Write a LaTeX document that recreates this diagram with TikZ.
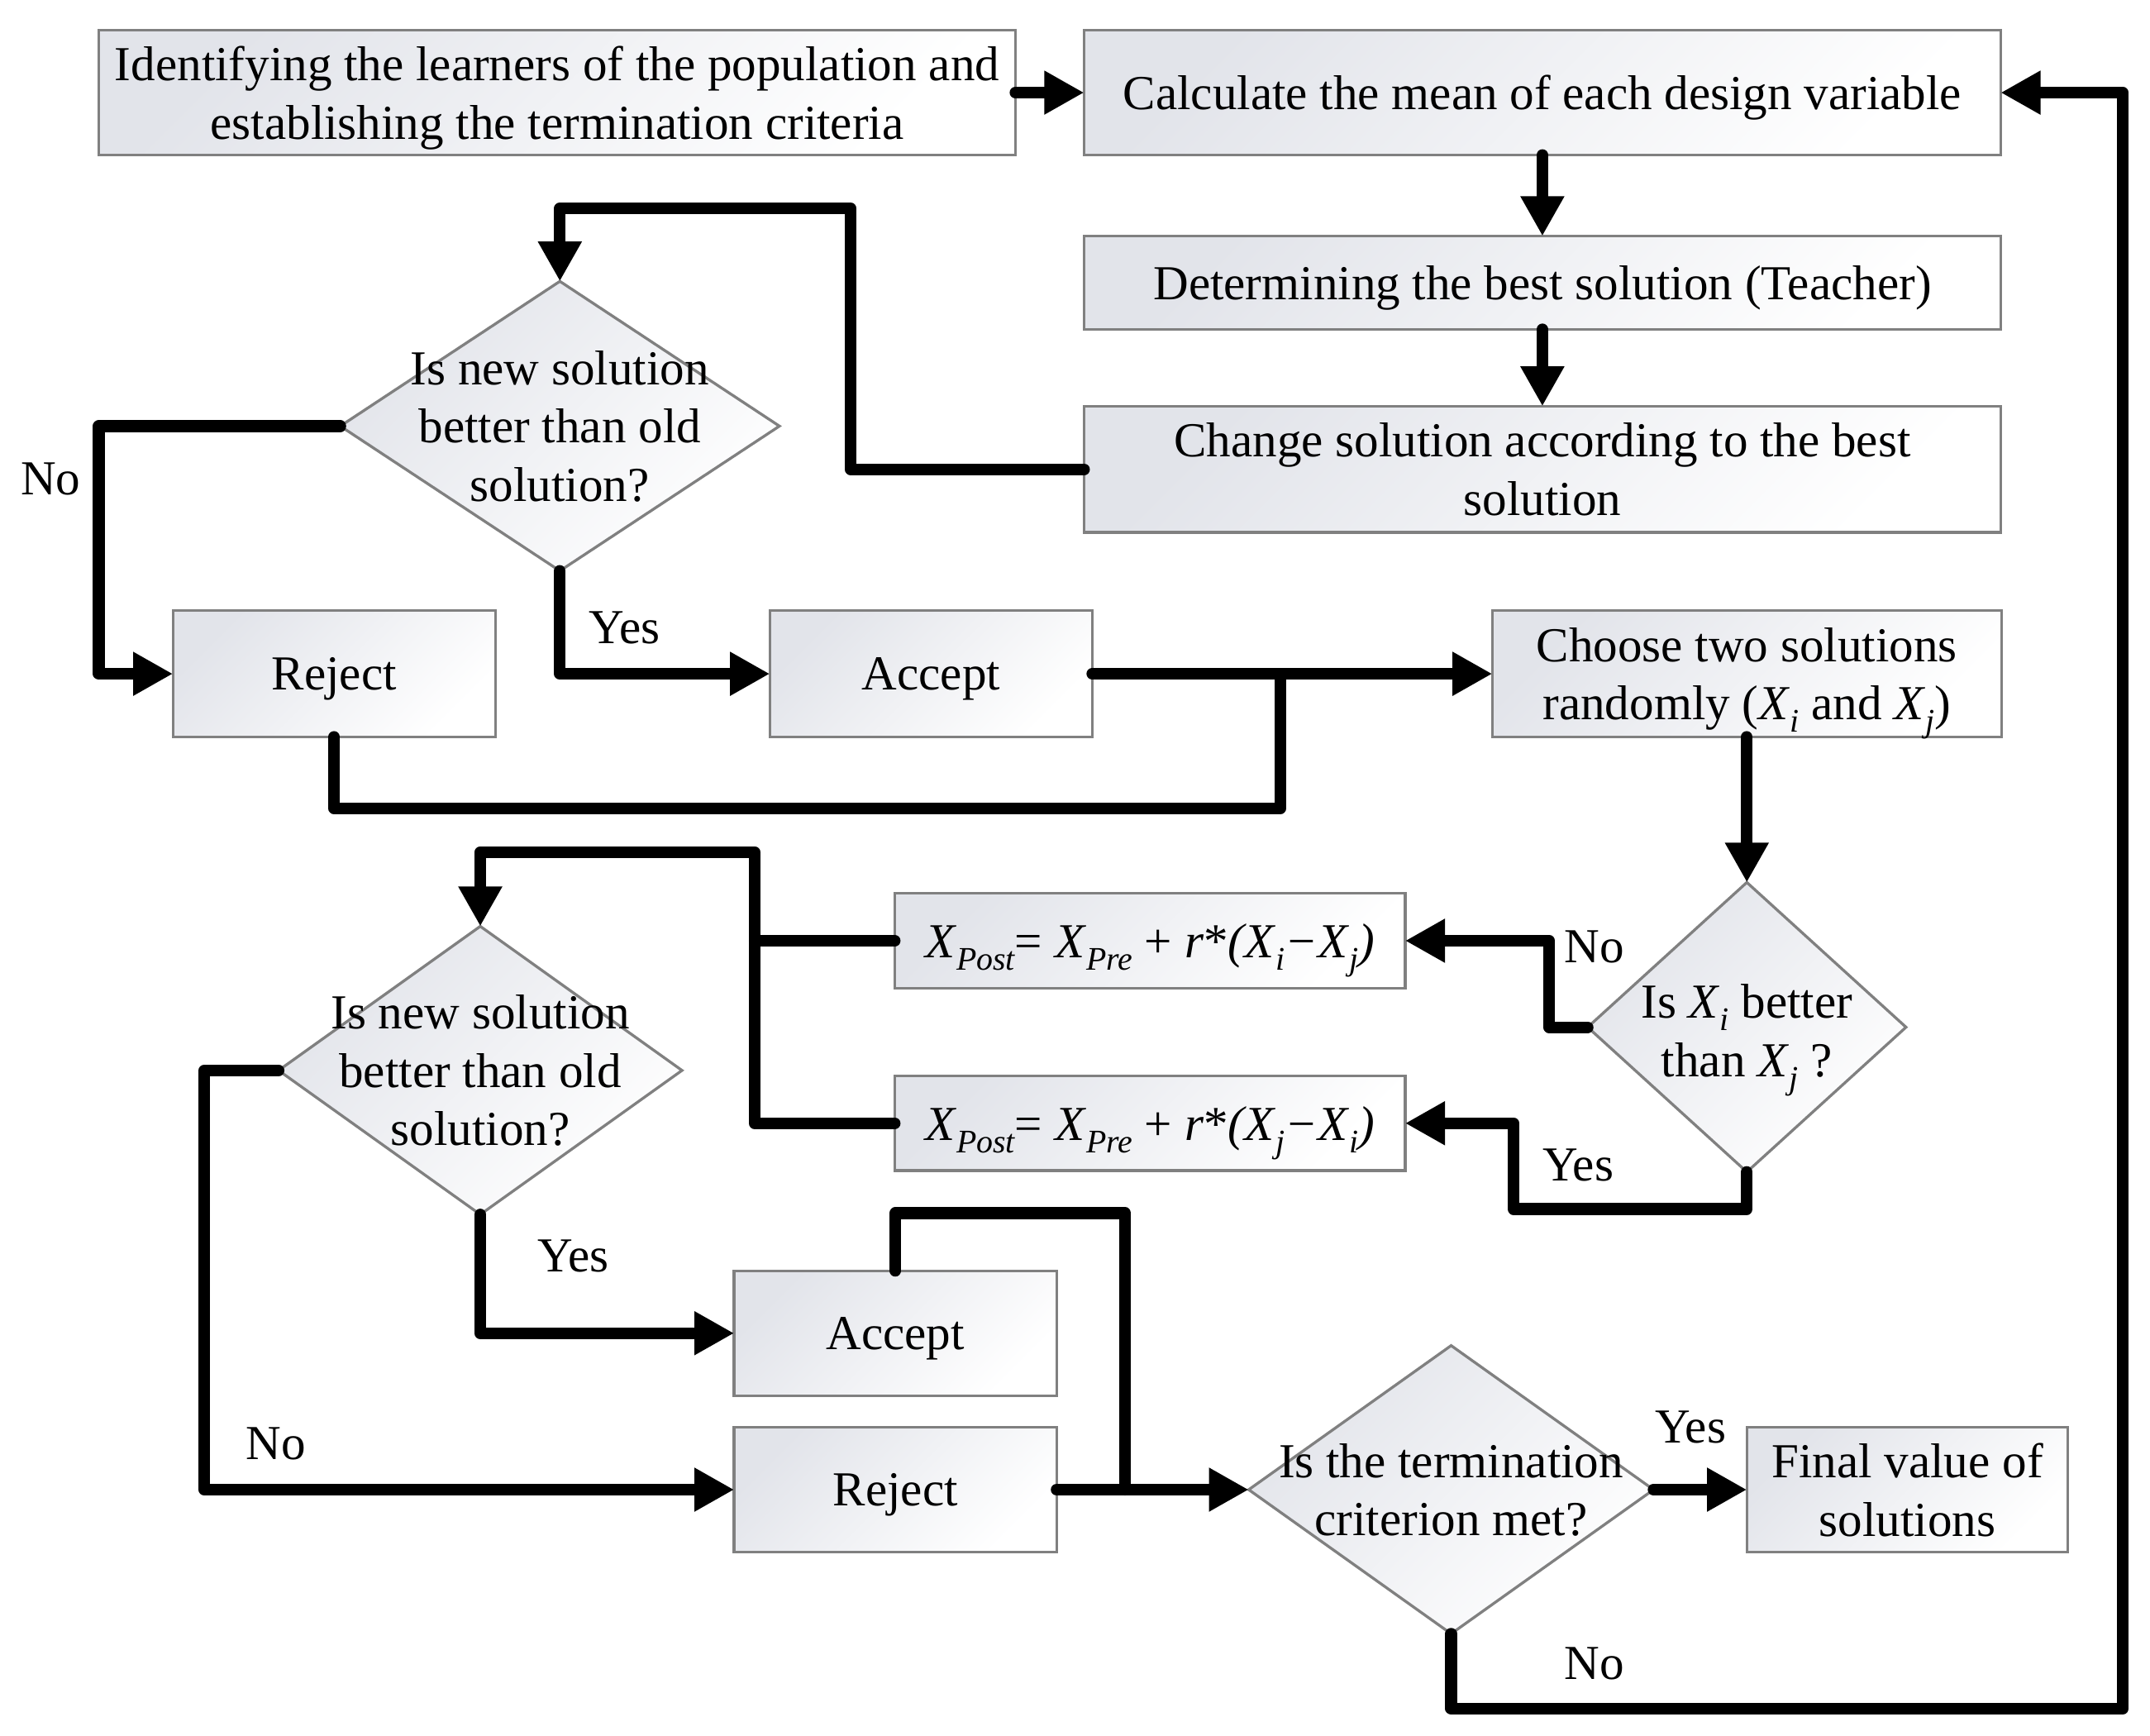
\documentclass[tikz,border=0pt]{standalone}
\usepackage{fontspec}
\setmainfont{Liberation Serif}
\usetikzlibrary{arrows.meta,shapes.geometric}
\definecolor{boxline}{RGB}{128,128,128}
\definecolor{boxfill}{RGB}{226,228,234}
\newcommand{\sbs}[1]{\raisebox{-0.25em}{\fontsize{24}{24}\selectfont\itshape #1}}
\begin{document}
\begin{tikzpicture}[x=1pt,y=-1pt,
  every node/.style={font=\fontsize{35.6}{42.5}\selectfont, text depth=0pt},
  box/.style={rectangle, draw=boxline, line width=2pt, left color=boxfill, right color=white, shading angle=45, inner sep=0pt, outer sep=0pt, align=center},
  dia/.style={diamond, draw=boxline, line width=2pt, left color=boxfill, right color=white, shading angle=45, inner sep=0pt, outer sep=0pt},
  txt/.style={align=center, inner sep=0pt},
  conn/.style={line width=8.5pt, line cap=round, line join=round},
  arr/.style={conn, -{Triangle[length=29pt,width=30pt]}}]
\useasboundingbox (0,0) rectangle (1566.8,1265);
% boxes
\node[box, minimum width=668pt, minimum height=91pt] (A) at (406,67.5) {Identifying the learners of the population and\\establishing the termination criteria};
\node[box, minimum width=668pt, minimum height=91pt] (B) at (1124,67.5) {Calculate the mean of each design variable};
\node[box, minimum width=668pt, minimum height=68pt] (C) at (1124,206) {Determining the best solution (Teacher)};
\node[box, minimum width=668pt, minimum height=92pt] (D) at (1124,342) {Change solution according to the best\\solution};
\node[box, minimum width=235pt, minimum height=92pt] (R1) at (243.5,491) {Reject};
\node[box, minimum width=235pt, minimum height=92pt] (A1) at (678.5,491) {Accept};
\node[box, minimum width=371pt, minimum height=92pt] (Ch) at (1273,491) {Choose two solutions\\randomly (\textit{X}\sbs{i} and \textit{X}\sbs{j})};
\node[box, minimum width=372pt, minimum height=69pt] (F1) at (838,685.5) {\textit{X}\sbs{Post}= \textit{X}\sbs{Pre} + \textit{r}*\textit{(X}\sbs{i}\textit{−X}\sbs{j}\textit{)}};
\node[box, minimum width=372pt, minimum height=69pt] (F2) at (838,818.5) {\textit{X}\sbs{Post}= \textit{X}\sbs{Pre} + \textit{r}*\textit{(X}\sbs{j}\textit{−X}\sbs{i}\textit{)}};
\node[box, minimum width=235pt, minimum height=91pt] (A2) at (652.5,971.5) {Accept};
\node[box, minimum width=235pt, minimum height=91pt] (R2) at (652.5,1085.5) {Reject};
\node[box, minimum width=234pt, minimum height=91pt] (Fin) at (1390,1085.5) {Final value of\\solutions};
% diamonds
\node[dia, minimum width=320pt, minimum height=211pt] (d1) at (408,310.5) {};
\node[txt] (d1t) at (d1.center) {Is new solution\\better than old\\solution?};
\node[dia, minimum width=232pt, minimum height=211pt] (d2) at (1273,748.5) {};
\node[txt] (d2t) at (1273,751) {Is \textit{X}\sbs{i} better\\than \textit{X}\sbs{j} ?};
\node[dia, minimum width=294pt, minimum height=210pt] (d3) at (350,780) {};
\node[txt] (d3t) at (d3.center) {Is new solution\\better than old\\solution?};
\node[dia, minimum width=295pt, minimum height=210pt] (d4) at (1057.5,1085.5) {};
\node[txt] (d4t) at (d4.center) {Is the termination\\criterion met?};
% junction coordinates
\coordinate (j1) at (620,152);
\coordinate (j2) at (72,491);
\coordinate (j3) at (933,589);
\coordinate (j4) at (933,491);
\coordinate (j5) at (1129,748.5);
\coordinate (j6) at (1103,881);
\coordinate (j7) at (550,685.5);
\coordinate (j8) at (550,621);
\coordinate (j9) at (149,1085.5);
\coordinate (j10) at (820,884);
\coordinate (j11) at (820,1085.5);
\coordinate (j12) at (1547,1245);
% connectors
\draw[arr] (A.east) -- (B.west);
\draw[arr] (B.south) -- (C.north);
\draw[arr] (C.south) -- (D.north);
\draw[arr] (D.west) -| (j1) -| (d1.north);
\draw[arr] (d1.west) -| (j2) -- (R1.west);
\draw[arr] (d1.south) |- (A1.west);
\draw[arr] (A1.east) -- (Ch.west);
\draw[conn] (R1.south) |- (j3) -- (j4);
\draw[arr] (Ch.south) -- (d2.north);
\draw[arr] (d2.west) -- (j5) |- (F1.east);
\draw[arr] (d2.south) |- (j6) |- (F2.east);
\draw[conn] (F1.west) -- (j7);
\draw[arr] (F2.west) -| (j8) -| (d3.north);
\draw[arr] (d3.west) -| (j9) -- (R2.west);
\draw[arr] (d3.south) |- (A2.west);
\draw[conn] (A2.north) |- (j10) -- (j11);
\draw[arr] (R2.east) -- (d4.west);
\draw[arr] (d4.east) -- (Fin.west);
\draw[arr] (d4.south) |- (j12) |- (B.east);
% labels
\node (l1) at (37,349) {No};
\node (l2) at (455,457) {Yes};
\node (l3) at (1162,690) {No};
\node (l4) at (1150,849) {Yes};
\node (l5) at (201,1052) {No};
\node (l6) at (418,915) {Yes};
\node (l7) at (1232,1040) {Yes};
\node (l8) at (1162,1212) {No};
\end{tikzpicture}
\end{document}
